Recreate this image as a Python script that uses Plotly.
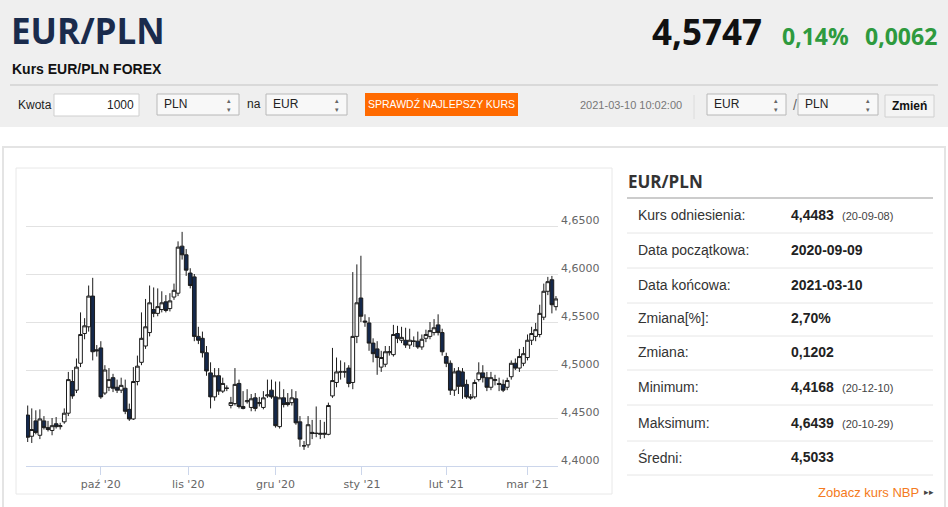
import pandas as pd
import plotly.graph_objects as go

# %% data
W, H = 948, 507

# trading days on the chart: weekdays, no 25 Dec / 1 Jan
holidays = ['2020-12-25', '2021-01-01']
dates = [d for d in pd.bdate_range('2020-09-07', '2021-03-10') if d.strftime('%Y-%m-%d') not in holidays]

open_ = [4.453, 4.431, 4.447, 4.432, 4.447, 4.440, 4.437, 4.444, 4.441, 4.446,
         4.455, 4.488, 4.479, 4.507, 4.538, 4.545, 4.577, 4.521, 4.523, 4.476,
         4.482, 4.492, 4.482, 4.479, 4.481, 4.459, 4.449, 4.488, 4.508, 4.525,
         4.539, 4.563, 4.559, 4.563, 4.571, 4.564, 4.576, 4.580, 4.629, 4.620,
         4.601, 4.597, 4.535, 4.533, 4.518, 4.497, 4.472, 4.494, 4.478, 4.481,
         4.463, 4.465, 4.486, 4.462, 4.467, 4.461, 4.471, 4.465, 4.461, 4.473,
         4.479, 4.472, 4.441, 4.471, 4.466, 4.466, 4.470, 4.446, 4.421, 4.422,
         4.435, 4.434, 4.433, 4.433, 4.433, 4.473, 4.487, 4.498, 4.498, 4.502,
         4.487, 4.535, 4.575, 4.551, 4.549, 4.528, 4.522, 4.503, 4.506, 4.518,
         4.516, 4.538, 4.531, 4.531, 4.526, 4.530, 4.530, 4.524, 4.533, 4.535,
         4.539, 4.547, 4.539, 4.514, 4.507, 4.479, 4.499, 4.498, 4.485, 4.472,
         4.472, 4.490, 4.497, 4.492, 4.482, 4.489, 4.486, 4.485, 4.482, 4.493,
         4.507, 4.502, 4.507, 4.513, 4.531, 4.535, 4.537, 4.555, 4.582, 4.594,
         4.566]
high = [4.463, 4.460, 4.458, 4.459, 4.452, 4.447, 4.450, 4.451, 4.445, 4.460,
        4.498, 4.500, 4.512, 4.560, 4.554, 4.588, 4.596, 4.526, 4.530, 4.505,
        4.502, 4.496, 4.490, 4.492, 4.490, 4.465, 4.503, 4.515, 4.560, 4.574,
        4.588, 4.586, 4.585, 4.582, 4.578, 4.580, 4.590, 4.634, 4.6439, 4.626,
        4.606, 4.600, 4.545, 4.540, 4.525, 4.508, 4.502, 4.502, 4.492, 4.484,
        4.472, 4.502, 4.490, 4.478, 4.480, 4.475, 4.476, 4.472, 4.478, 4.490,
        4.490, 4.488, 4.488, 4.480, 4.476, 4.480, 4.478, 4.452, 4.426, 4.452,
        4.448, 4.462, 4.448, 4.446, 4.466, 4.523, 4.513, 4.510, 4.508, 4.505,
        4.602, 4.610, 4.619, 4.558, 4.555, 4.533, 4.530, 4.520, 4.525, 4.525,
        4.547, 4.546, 4.545, 4.544, 4.543, 4.535, 4.540, 4.537, 4.542, 4.550,
        4.553, 4.558, 4.543, 4.518, 4.510, 4.502, 4.503, 4.502, 4.490, 4.475,
        4.490, 4.508, 4.505, 4.498, 4.498, 4.495, 4.492, 4.490, 4.492, 4.510,
        4.512, 4.522, 4.524, 4.537, 4.545, 4.549, 4.568, 4.590, 4.597, 4.598,
        4.577]
low = [4.425, 4.424, 4.433, 4.428, 4.438, 4.436, 4.432, 4.439, 4.438, 4.444,
       4.452, 4.470, 4.476, 4.503, 4.532, 4.540, 4.510, 4.514, 4.470, 4.474,
       4.478, 4.477, 4.476, 4.476, 4.454, 4.447, 4.448, 4.484, 4.505, 4.522,
       4.535, 4.555, 4.556, 4.560, 4.560, 4.561, 4.573, 4.577, 4.615, 4.598,
       4.585, 4.530, 4.527, 4.513, 4.494, 4.460, 4.468, 4.474, 4.476, 4.478,
       4.460, 4.463, 4.460, 4.459, 4.465, 4.457, 4.457, 4.462, 4.459, 4.471,
       4.470, 4.440, 4.439, 4.461, 4.462, 4.463, 4.443, 4.420, 4.4168, 4.419,
       4.428, 4.430, 4.428, 4.429, 4.432, 4.471, 4.482, 4.490, 4.492, 4.482,
       4.480, 4.528, 4.550, 4.545, 4.520, 4.508, 4.495, 4.498, 4.503, 4.515,
       4.514, 4.528, 4.528, 4.523, 4.522, 4.524, 4.522, 4.521, 4.529, 4.532,
       4.536, 4.536, 4.515, 4.503, 4.474, 4.473, 4.475, 4.470, 4.470, 4.469,
       4.470, 4.488, 4.487, 4.478, 4.479, 4.484, 4.478, 4.477, 4.479, 4.490,
       4.500, 4.498, 4.504, 4.510, 4.526, 4.530, 4.534, 4.552, 4.578, 4.559,
       4.562]
close = [4.430, 4.438, 4.435, 4.449, 4.440, 4.438, 4.442, 4.441, 4.442, 4.455,
         4.490, 4.473, 4.503, 4.537, 4.546, 4.577, 4.519, 4.520, 4.472, 4.500,
         4.490, 4.481, 4.479, 4.484, 4.457, 4.449, 4.488, 4.504, 4.533, 4.545,
         4.570, 4.559, 4.566, 4.570, 4.562, 4.572, 4.583, 4.628, 4.620, 4.604,
         4.588, 4.535, 4.531, 4.518, 4.499, 4.472, 4.494, 4.478, 4.486, 4.481,
         4.466, 4.485, 4.462, 4.460, 4.468, 4.470, 4.460, 4.466, 4.471, 4.474,
         4.472, 4.442, 4.471, 4.464, 4.464, 4.471, 4.445, 4.428, 4.421, 4.443,
         4.434, 4.434, 4.434, 4.434, 4.463, 4.489, 4.498, 4.498, 4.498, 4.486,
         4.535, 4.570, 4.556, 4.550, 4.528, 4.517, 4.513, 4.513, 4.519, 4.519,
         4.537, 4.533, 4.534, 4.526, 4.531, 4.530, 4.524, 4.532, 4.537, 4.541,
         4.544, 4.539, 4.519, 4.507, 4.479, 4.498, 4.483, 4.483, 4.472, 4.471,
         4.487, 4.497, 4.492, 4.482, 4.492, 4.490, 4.485, 4.479, 4.489, 4.507,
         4.502, 4.514, 4.517, 4.531, 4.538, 4.542, 4.559, 4.582, 4.592, 4.568,
         4.574]

# month ticks; Nov 1 and Jan 1 fall on closed days, so the tick sits in the gap
month_ticks = ['2020-10-01', '2020-10-30 12:00', '2020-12-01', '2020-12-31 06:00', '2021-02-01', '2021-03-01']
month_labels = ["paź '20", "lis '20", "gru '20", "sty '21", "lut '21", "mar '21"]
price_ticks = [4.40, 4.45, 4.50, 4.55, 4.60, 4.65, 4.70]
price_labels = ['4,4000', '4,4500', '4,5000', '4,5500', '4,6000', '4,6500', '']

stat_labels = ['Kurs odniesienia:', 'Data początkowa:', 'Data końcowa:', 'Zmiana[%]:',
               'Zmiana:', 'Minimum:', 'Maksimum:', 'Średni:']
stat_values = ['4,4483', '2020-09-09', '2021-03-10', '2,70%', '0,1202', '4,4168', '4,6439', '4,5033']
stat_dates = ['(20-09-08)', '', '', '', '', '(20-12-10)', '(20-10-29)', '']

# %% helpers (pixel -> paper)
ARIAL = 'Liberation Sans, Arial, sans-serif'
OPEN = 'Open Sans, sans-serif'
VERD = 'DejaVu Sans, Verdana, sans-serif'
shapes, notes = [], []


def rect(x0, y0, x1, y1, fill='rgba(0,0,0,0)', line='rgba(0,0,0,0)', width=1, layer='below'):
    shapes.append(dict(type='rect', xref='paper', yref='paper', layer=layer,
                       x0=x0 / W, x1=x1 / W, y0=1 - y1 / H, y1=1 - y0 / H,
                       fillcolor=fill, line=dict(color=line, width=width)))


def hline(x0, x1, y, color, width=1):
    shapes.append(dict(type='line', xref='paper', yref='paper', layer='below',
                       x0=x0 / W, x1=x1 / W, y0=1 - y / H, y1=1 - y / H,
                       line=dict(color=color, width=width)))


def vline(x, y0, y1, color, width=1):
    shapes.append(dict(type='line', xref='paper', yref='paper', layer='below',
                       x0=x / W, x1=x / W, y0=1 - y0 / H, y1=1 - y1 / H,
                       line=dict(color=color, width=width)))


def txt(x, y, s, size, color, family=ARIAL, anchor='left', weight='normal'):
    notes.append(dict(x=x / W, y=1 - y / H, xref='paper', yref='paper', text=s,
                      showarrow=False, xanchor=anchor, yanchor='middle', borderpad=0,
                      font=dict(size=size, color=color, family=family, weight=weight)))


def select(x0, x1, label):
    rect(x0, 94, x1, 115, fill='#f8f8f8', line='#b8b8b8')
    txt(x0 + 6, 104, label, 12, '#222')
    txt(x1 - 10, 104.5, '▴<br>▾', 7, '#666', anchor='center')


# %% header
rect(0, 0, W, 127, fill='#efefef')
txt(10, 31, 'EUR/PLN', 35, '#1a2b4c', OPEN, weight='bold')
txt(11, 69, 'Kurs EUR/PLN FOREX', 14, '#111', ARIAL, weight='bold')
txt(763, 32, '4,5747', 35, '#111', OPEN, anchor='right', weight='bold')
txt(850, 36, '0,14%', 23, '#2e9a3e', OPEN, anchor='right', weight='bold')
txt(938, 36, '0,0062', 23, '#2e9a3e', OPEN, anchor='right', weight='bold')
hline(10, 938, 85, '#d9d9d9', 2)

txt(17, 105, 'Kwota', 12, '#222')
rect(54, 94, 139, 116, fill='white', line='#cfcfcf')
txt(135, 105, '1000', 12, '#222', anchor='right')
select(157, 239, 'PLN')
txt(246, 104, 'na', 12, '#222')
select(266, 347, 'EUR')
rect(365, 93, 518, 116, fill='#ff6a00')
txt(441, 104, 'SPRAWDŹ NAJLEPSZY KURS', 10.5, 'white', anchor='center')
txt(683, 105, '2021-03-10 10:02:00', 11, '#777', anchor='right')
vline(694, 95, 119, '#dcdcdc')
select(707, 786, 'EUR')
txt(795, 105, '/', 14, '#666', anchor='center')
select(798, 878, 'PLN')
rect(885, 95, 934, 117, fill='#f4f4f4', line='#d0d0d0')
txt(909, 106, 'Zmień', 12, '#111', anchor='center', weight='bold')

# %% panels
rect(3, 147, 945, 512, fill='white', line='#e4e4e4', width=2)
rect(16, 168, 612, 494, line='#e8e8e8')

# %% stats table
txt(627, 181, 'EUR/PLN', 17, '#333', OPEN, weight='bold')
hline(627, 933, 198, '#999')
row_y = [215, 250, 285, 318, 352, 387, 423, 457]
for i in range(len(stat_labels)):
    txt(637, row_y[i], stat_labels[i], 14, '#333')
    txt(790, row_y[i], stat_values[i], 14, '#222', weight='bold')
    if stat_dates[i]:
        txt(841, row_y[i] + 1, stat_dates[i], 11, '#444')
    hline(627, 933, row_y[i] + 18, '#e6e6e6')
txt(920, 492, 'Zobacz kurs NBP', 13, '#f47a20', anchor='right')
txt(923, 492, '▸▸', 9, '#444')

# %% candlestick
fig = go.Figure(go.Candlestick(
    x=dates, open=open_, high=high, low=low, close=close,
    increasing=dict(fillcolor='white', line=dict(color='#1c1c1c', width=1)),
    decreasing=dict(fillcolor='#14284b', line=dict(color='#1c1c1c', width=1)),
    whiskerwidth=0, hoverinfo='skip'))

fig.update_layout(
    width=W, height=H, autosize=False,
    margin=dict(l=0, r=0, t=0, b=0),
    paper_bgcolor='white', plot_bgcolor='white',
    showlegend=False, boxgap=0.1, boxgroupgap=0.0,
    shapes=shapes, annotations=notes,
    xaxis=dict(domain=[26 / W, 558 / W], type='date', automargin=False,
               rangebreaks=[dict(bounds=['sat', 'mon']), dict(values=holidays)],
               range=['2020-09-04 14:00', '2021-03-10 12:00'],
               rangeslider=dict(visible=False),
               tickvals=month_ticks, ticktext=month_labels,
               ticks='outside', ticklen=8, tickcolor='#ccd6eb',
               showline=True, linecolor='#ccd6eb', showgrid=False,
               tickfont=dict(family=VERD, size=11, color='#666')),
    yaxis=dict(domain=[1 - 466 / H, 1 - 178 / H], range=[4.40, 4.70], side='right',
               automargin=False, tickvals=price_ticks, ticktext=price_labels,
               showgrid=True, gridcolor='#e2e2e2', zeroline=False,
               ticks='', ticklabelshift=-6, ticklabelstandoff=2,
               tickfont=dict(family=VERD, size=11, color='#666')),
)

# page body has an 8px default margin; drop it so the figure fills the window
fig.write_html('out.html', config={'displayModeBar': False},
               post_script="document.body.style.margin='0px';")
